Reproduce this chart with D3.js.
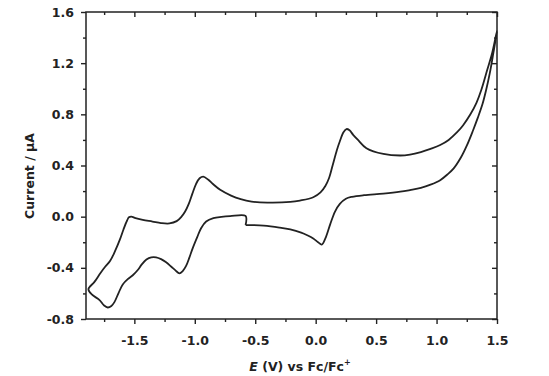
<!DOCTYPE html>
<html>
<head>
<meta charset="utf-8">
<script src="https://cdn.jsdelivr.net/npm/d3@7"></script>
<style>
  body { margin: 0; background: #fff; }
  svg text { font-family: "DejaVu Sans", sans-serif; font-weight: bold; fill: #222; }
</style>
</head>
<body>
<div id="chart"></div>
<script>
// potential (V vs Fc/Fc+) and current (uA), in scan order
var potential = [
  -0.58, -0.43, -0.30, -0.21, -0.12, -0.07, -0.02, 0.02, 0.05, 0.08, 0.12, 0.16, 0.20, 0.25, 0.30,
  0.40, 0.56, 0.70, 0.78, 0.87, 0.95, 1.03, 1.09, 1.14, 1.20, 1.25, 1.30, 1.34, 1.38, 1.41, 1.44, 1.47, 1.50,
  1.49, 1.46, 1.42, 1.37, 1.33, 1.28, 1.22, 1.17, 1.10, 1.03, 0.95, 0.87, 0.78, 0.70, 0.56, 0.42, 0.35,
  0.31, 0.28, 0.255, 0.23, 0.20, 0.175, 0.14, 0.11, 0.08, 0.04, -0.02, -0.13, -0.21, -0.40, -0.53,
  -0.62, -0.70, -0.79, -0.85, -0.89, -0.93, -0.96, -0.99, -1.02, -1.05, -1.08, -1.11, -1.15, -1.21,
  -1.28, -1.35, -1.43, -1.49, -1.525, -1.545, -1.56, -1.59, -1.62, -1.66, -1.70, -1.74, -1.78,
  -1.83, -1.88,
  -1.85, -1.79, -1.75, -1.72, -1.69, -1.665, -1.63, -1.596, -1.55, -1.513, -1.47, -1.44, -1.40,
  -1.36, -1.32, -1.279, -1.24, -1.196, -1.16, -1.127, -1.10, -1.072, -1.045, -1.017, -0.98, -0.948,
  -0.906, -0.846, -0.78, -0.708, -0.58, -0.58
];
var current = [
  -0.065, -0.07, -0.085, -0.10, -0.125, -0.145, -0.17, -0.20, -0.218, -0.17, -0.06, 0.04, 0.10, 0.14, 0.155,
  0.168, 0.18, 0.195, 0.208, 0.225, 0.25, 0.285, 0.33, 0.375, 0.46, 0.555, 0.67, 0.77, 0.88, 0.99, 1.12, 1.28, 1.45,
  1.41, 1.28, 1.15, 0.99, 0.89, 0.80, 0.715, 0.66, 0.60, 0.56, 0.53, 0.505, 0.485, 0.478, 0.49, 0.535, 0.60,
  0.64, 0.675, 0.685, 0.66, 0.59, 0.52, 0.40, 0.30, 0.24, 0.19, 0.152, 0.126, 0.115, 0.11, 0.118,
  0.137, 0.165, 0.21, 0.255, 0.29, 0.313, 0.30, 0.255, 0.18, 0.10, 0.04, 0.0, -0.035, -0.053,
  -0.05, -0.038, -0.025, -0.012, 0.0, -0.005, -0.03, -0.10, -0.18, -0.27, -0.345, -0.39, -0.44,
  -0.51, -0.567,
  -0.61, -0.65, -0.695, -0.71, -0.698, -0.668, -0.595, -0.53, -0.485, -0.458, -0.415, -0.375, -0.335,
  -0.318, -0.318, -0.332, -0.355, -0.39, -0.42, -0.443, -0.425, -0.385, -0.32, -0.246, -0.16, -0.09,
  -0.038, -0.012, -0.002, 0.004, 0.006, -0.065
];
var xTicks = [-1.5, -1.0, -0.5, 0.0, 0.5, 1.0, 1.5];
var yTicks = [-0.8, -0.4, 0.0, 0.4, 0.8, 1.2, 1.6];

var W = 549, H = 376;
var margin = {left: 86, right: 497, top: 12, bottom: 319};

var svg = d3.select("#chart").append("svg")
    .attr("width", W)
    .attr("height", H);

var x = d3.scaleLinear().domain([-1.9, 1.5]).range([margin.left, margin.right]);
var y = d3.scaleLinear().domain([-0.8, 1.6]).range([margin.bottom, margin.top]);

var xMinor = d3.range(-1.75, 1.51, 0.25).filter(function(v) {
    return Math.abs(v / 0.5 - Math.round(v / 0.5)) > 0.01;
});
var yMinor = d3.range(-0.6, 1.6, 0.4);

function fmt(v) { return d3.format(".1f")(v).replace("\u2212", "-"); }

// minor ticks: outward on left/bottom, inward on top/right
svg.append("g").attr("class", "axis")
    .attr("transform", "translate(0," + margin.bottom + ")")
    .call(d3.axisBottom(x).tickValues(xMinor).tickSize(3).tickFormat(""));
svg.append("g").attr("class", "axis")
    .attr("transform", "translate(0," + margin.top + ")")
    .call(d3.axisTop(x).tickValues(xMinor).tickSize(-3).tickFormat(""));
svg.append("g").attr("class", "axis")
    .attr("transform", "translate(" + margin.left + ",0)")
    .call(d3.axisLeft(y).tickValues(yMinor).tickSize(3).tickFormat(""));
svg.append("g").attr("class", "axis")
    .attr("transform", "translate(" + margin.right + ",0)")
    .call(d3.axisRight(y).tickValues(yMinor).tickSize(-3).tickFormat(""));

// major ticks
svg.append("g").attr("class", "axis")
    .attr("transform", "translate(0," + margin.bottom + ")")
    .call(d3.axisBottom(x).tickValues(xTicks).tickSize(5).tickPadding(12).tickFormat(fmt));
svg.append("g").attr("class", "axis")
    .attr("transform", "translate(0," + margin.top + ")")
    .call(d3.axisTop(x).tickValues(xTicks).tickSize(-5).tickFormat(""));
svg.append("g").attr("class", "axis")
    .attr("transform", "translate(" + margin.left + ",0)")
    .call(d3.axisLeft(y).tickValues(yTicks).tickSize(5).tickPadding(7).tickFormat(fmt));
svg.append("g").attr("class", "axis")
    .attr("transform", "translate(" + margin.right + ",0)")
    .call(d3.axisRight(y).tickValues(yTicks).tickSize(-5).tickFormat(""));

svg.selectAll(".axis path").attr("stroke", "none");
svg.selectAll(".axis line").attr("stroke", "#222").attr("stroke-width", 1.4);
svg.selectAll(".axis text")
    .attr("font-family", "DejaVu Sans, sans-serif")
    .attr("font-weight", "bold")
    .attr("font-size", 12.5)
    .attr("fill", "#222");

// frame
svg.append("rect")
    .attr("x", margin.left).attr("y", margin.top)
    .attr("width", margin.right - margin.left).attr("height", margin.bottom - margin.top)
    .attr("fill", "none")
    .attr("stroke", "#222")
    .attr("stroke-width", 1.5);

// the voltammogram
var pts = potential.map(function(e, i) { return [e, current[i]]; });
var line = d3.line()
    .x(function(d) { return x(d[0]); })
    .y(function(d) { return y(d[1]); })
    .curve(d3.curveCatmullRom.alpha(0.5));

svg.append("path")
    .datum(pts)
    .attr("d", line)
    .attr("fill", "none")
    .attr("stroke", "#222")
    .attr("stroke-width", 1.8)
    .attr("stroke-linejoin", "round");

// axis titles
var xt = svg.append("text")
    .attr("x", 300)
    .attr("y", 371)
    .attr("text-anchor", "middle")
    .attr("font-size", 12.5);
xt.append("tspan").attr("font-style", "italic").text("E");
xt.append("tspan").text(" (V) vs Fc/Fc");
xt.append("tspan").attr("font-size", 8).attr("dy", -6).text("+");

svg.append("text")
    .attr("transform", "translate(34,176) rotate(-90)")
    .attr("text-anchor", "middle")
    .attr("font-size", 12.5)
    .text("Current / \u03bcA");
</script>
</body>
</html>
